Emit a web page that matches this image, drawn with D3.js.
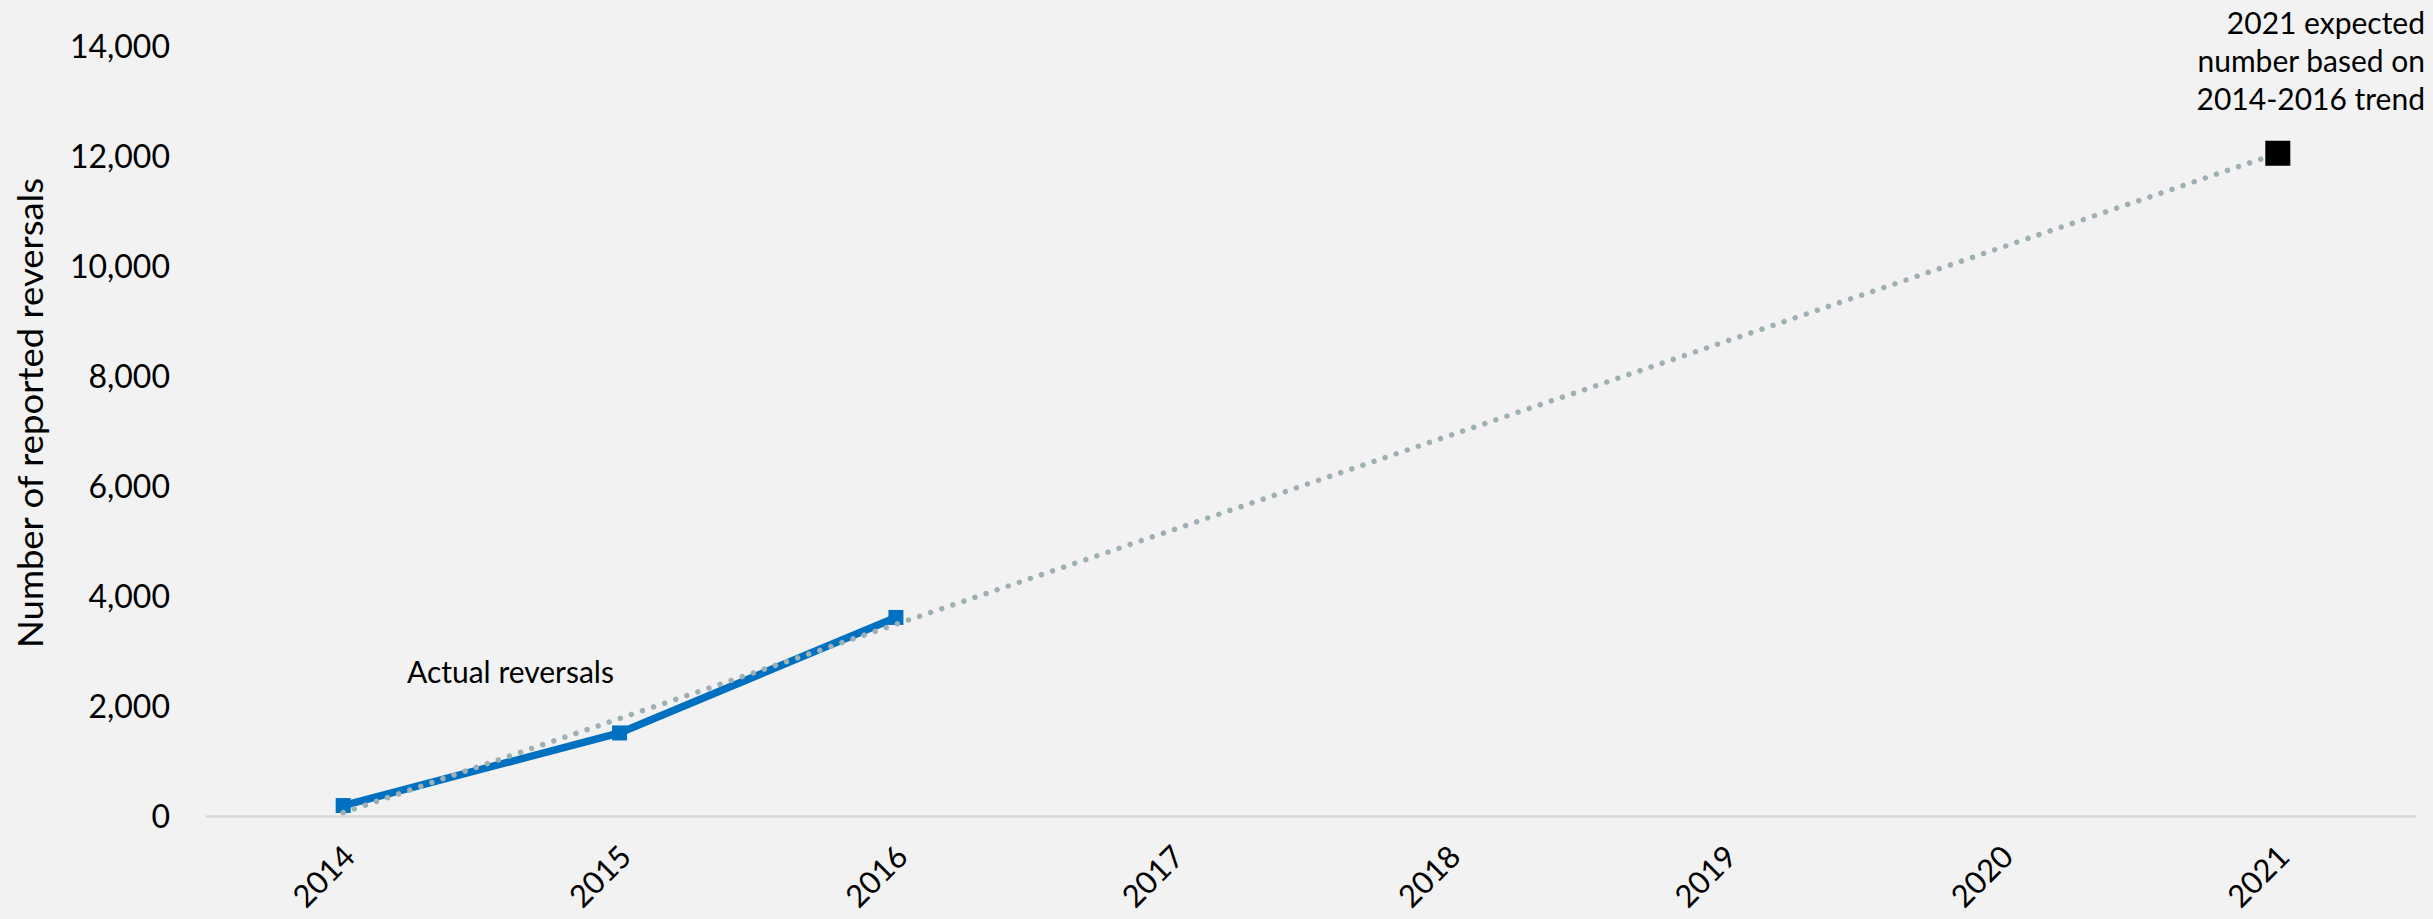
<!DOCTYPE html>
<html>
<head>
<meta charset="utf-8">
<script src="https://cdn.jsdelivr.net/npm/d3@7"></script>
<style>
  html, body { margin: 0; padding: 0; background: #f2f2f2; }
  svg { display: block; }
  text { font-family: Lato, "Open Sans", sans-serif; fill: #000; }
</style>
</head>
<body>
<svg id="chart" width="2433" height="919"></svg>
<script>
// ---- data ----
const years = ["2014", "2015", "2016", "2017", "2018", "2019", "2020", "2021"];
const actualYears = ["2014", "2015", "2016"];
const actualValues = [190, 1510, 3610];
const trendYears = ["2014", "2021"];
const trendValues = [60, 12050];
const expectedYear = "2021";
const expectedValue = 12050;
const yTicks = [0, 2000, 4000, 6000, 8000, 10000, 12000, 14000];
const yTitle = "Number of reported reversals";
const actualLabel = "Actual reversals";
const expectedLabel = ["2021 expected", "number based on", "2014-2016 trend"];

// ---- layout ----
const W = 2433, H = 919;
const plot = { left: 205, right: 2416, top: 46, bottom: 816 };

const svg = d3.select("#chart");
svg.append("rect").attr("width", W).attr("height", H).attr("fill", "#f2f2f2");

const x = d3.scaleBand().domain(years).range([plot.left, plot.right]).padding(0);
const y = d3.scaleLinear().domain([0, 14000]).range([plot.bottom, plot.top]);
const cx = d => x(d) + x.bandwidth() / 2;

// y axis (labels only)
const yAxis = svg.append("g")
  .attr("transform", `translate(${plot.left},0)`)
  .call(d3.axisLeft(y).tickValues(yTicks).tickFormat(d3.format(",")).tickSize(0).tickPadding(35));
yAxis.select(".domain").remove();
yAxis.selectAll("text")
  .attr("font-family", "Lato, 'Open Sans', sans-serif")
  .attr("font-size", 32)
  .attr("fill", "#000")
  .attr("dy", "0.35em");

// x axis
const xAxis = svg.append("g")
  .attr("transform", `translate(0,${plot.bottom})`)
  .call(d3.axisBottom(x).tickSize(0).tickSizeOuter(0));
xAxis.select(".domain").attr("stroke", "#d9d9d9").attr("stroke-width", 2.5);
xAxis.selectAll("text")
  .attr("font-family", "Lato, 'Open Sans', sans-serif")
  .attr("font-size", 31)
  .attr("fill", "#000")
  .attr("y", 0)
  .attr("dy", "0.35em")
  .attr("text-anchor", "end")
  .attr("transform", "translate(6,35) rotate(-45)");

// y axis title
svg.append("text")
  .attr("transform", `translate(43,413) rotate(-90)`)
  .attr("text-anchor", "middle")
  .attr("font-size", 35)
  .attr("textLength", 470)
  .attr("lengthAdjust", "spacingAndGlyphs")
  .text(yTitle);

// actual line
const line = d3.line().x(d => cx(d[0])).y(d => y(d[1]));
const actual = actualYears.map((d, i) => [d, actualValues[i]]);
svg.append("path")
  .datum(actual)
  .attr("d", line)
  .attr("fill", "none")
  .attr("stroke", "#0070c0")
  .attr("stroke-width", 7.5)
  .attr("stroke-linejoin", "miter");

const ms = 15;
svg.selectAll(".am").data(actual).enter().append("rect")
  .attr("x", d => cx(d[0]) - ms / 2)
  .attr("y", d => y(d[1]) - ms / 2)
  .attr("width", ms).attr("height", ms)
  .attr("fill", "#0070c0");

// trend line (dotted)
const trend = trendYears.map((d, i) => [d, trendValues[i]]);
svg.append("path")
  .datum(trend)
  .attr("d", line)
  .attr("fill", "none")
  .attr("stroke", "#9fb0b5")
  .attr("stroke-width", 5.5)
  .attr("stroke-linecap", "round")
  .attr("stroke-dasharray", "0.01 11.7");

// expected marker
const bs = 25;
svg.append("rect")
  .attr("x", cx(expectedYear) - bs / 2)
  .attr("y", y(expectedValue) - bs / 2)
  .attr("width", bs).attr("height", bs)
  .attr("fill", "#000");

// annotations
svg.append("text")
  .attr("x", 407).attr("y", 683)
  .attr("font-size", 30)
  .text(actualLabel);

const ann = svg.append("text")
  .attr("text-anchor", "end")
  .attr("font-size", 30);
expectedLabel.forEach((t, i) => {
  ann.append("tspan").attr("x", 2425).attr("y", 34 + i * 38).text(t);
});
</script>
</body>
</html>
